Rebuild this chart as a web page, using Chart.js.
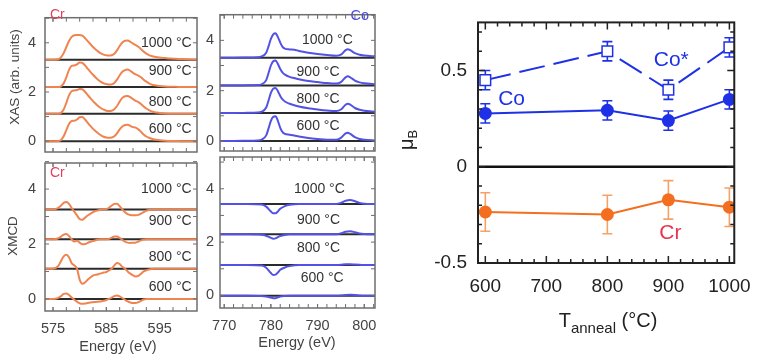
<!DOCTYPE html>
<html>
<head>
<meta charset="utf-8">
<script src="https://cdn.jsdelivr.net/npm/chart.js@4.4.0/dist/chart.umd.min.js"></script>
<style>
  body { margin: 0; background: #fff; }
  #wrap { position: relative; width: 763px; height: 361px; overflow: hidden; }
  #wrap canvas { position: absolute; left: 0; top: 0; }
</style>
</head>
<body>
<div id="wrap">
  <canvas id="crXas" width="763" height="361"></canvas>
  <canvas id="coXas" width="763" height="361"></canvas>
  <canvas id="crXmcd" width="763" height="361"></canvas>
  <canvas id="coXmcd" width="763" height="361"></canvas>
  <canvas id="moment" width="763" height="361"></canvas>
</div>
<script>
// ---- spectra (values relative to each curve's own baseline) ----
const temps = ['600 °C', '800 °C', '900 °C', '1000 °C'];

const crE = [573.5, 575, 576, 576.5, 577, 577.5, 578, 578.5, 579, 579.5,
             580, 580.5, 581, 581.5, 582, 582.5, 583, 583.5, 584, 584.5,
             585, 585.5, 586, 586.5, 587, 587.5, 588, 588.5, 589, 589.5,
             590, 590.5, 591, 591.5, 592, 592.5, 593, 593.5, 594, 595,
             596, 597, 598, 599, 600, 602];
const cr600Xas  = [0, 0, 0.01, 0.05, 0.2, 0.45, 0.7, 0.82, 0.83, 0.88, 0.97, 0.98, 0.88, 0.75, 0.62, 0.5, 0.4, 0.31, 0.24, 0.18, 0.15, 0.14, 0.15, 0.2, 0.32, 0.48, 0.6, 0.66, 0.67, 0.62, 0.57, 0.55, 0.48, 0.38, 0.27, 0.19, 0.14, 0.1, 0.07, 0.04, 0.02, 0.01, 0.01, 0, 0, 0];
const cr800Xas  = [0, 0, 0, 0.04, 0.18, 0.45, 0.75, 0.92, 0.95, 0.97, 1.01, 1.0, 0.9, 0.77, 0.64, 0.52, 0.41, 0.31, 0.23, 0.17, 0.13, 0.12, 0.13, 0.19, 0.32, 0.5, 0.65, 0.72, 0.73, 0.68, 0.6, 0.53, 0.48, 0.4, 0.3, 0.22, 0.15, 0.1, 0.07, 0.04, 0.02, 0.01, 0.01, 0, 0, 0];
const cr900Xas  = [0, 0, 0, 0.03, 0.15, 0.4, 0.7, 0.86, 0.88, 0.92, 1.0, 0.98, 0.88, 0.75, 0.62, 0.5, 0.39, 0.29, 0.21, 0.15, 0.12, 0.1, 0.11, 0.17, 0.3, 0.48, 0.62, 0.69, 0.71, 0.66, 0.58, 0.52, 0.47, 0.4, 0.3, 0.22, 0.15, 0.1, 0.07, 0.04, 0.02, 0.01, 0.01, 0, 0, 0];
const cr1000Xas = [0, 0, 0.02, 0.1, 0.27, 0.52, 0.76, 0.93, 1.0, 1.01, 1.01, 0.98, 0.88, 0.76, 0.64, 0.52, 0.42, 0.33, 0.26, 0.21, 0.18, 0.17, 0.18, 0.24, 0.38, 0.56, 0.7, 0.77, 0.78, 0.73, 0.66, 0.6, 0.53, 0.43, 0.33, 0.25, 0.19, 0.15, 0.12, 0.09, 0.07, 0.05, 0.04, 0.03, 0.02, 0.01];

const cr600Xmcd  = [0, 0, 0.04, 0.1, 0.18, 0.2, 0.14, 0.05, -0.03, -0.1, -0.16, -0.18, -0.17, -0.15, -0.13, -0.12, -0.11, -0.1, -0.09, -0.07, -0.04, 0, 0.05, 0.1, 0.12, 0.09, 0.03, -0.03, -0.09, -0.13, -0.15, -0.15, -0.12, -0.07, -0.02, 0, 0, 0, 0, 0, 0, 0, 0, 0, 0, 0];
const cr800Xmcd  = [0, 0, 0.1, 0.28, 0.45, 0.51, 0.42, 0.2, 0.12, 0, -0.4, -0.55, -0.5, -0.4, -0.32, -0.25, -0.22, -0.2, -0.17, -0.14, -0.12, -0.06, 0, 0.12, 0.21, 0.17, 0.07, 0, -0.1, -0.18, -0.24, -0.28, -0.26, -0.18, -0.1, -0.06, -0.03, -0.01, 0, 0, 0, 0, 0, 0, 0, 0];
const cr900Xmcd  = [0, 0, 0.04, 0.1, 0.17, 0.19, 0.12, 0, -0.08, -0.05, -0.12, -0.18, -0.17, -0.13, -0.09, -0.06, -0.03, -0.01, 0, 0, 0, 0.02, 0.06, 0.1, 0.1, 0.05, -0.02, -0.08, -0.12, -0.13, -0.12, -0.12, -0.08, -0.04, -0.01, 0, 0, 0, 0, 0, 0, 0, 0, 0, 0, 0];
const cr1000Xmcd = [0, 0, 0.06, 0.14, 0.24, 0.27, 0.2, 0.05, -0.08, -0.22, -0.35, -0.38, -0.3, -0.22, -0.16, -0.1, -0.06, -0.03, -0.01, 0, 0.01, 0.06, 0.14, 0.2, 0.21, 0.12, 0, -0.1, -0.17, -0.2, -0.21, -0.21, -0.2, -0.15, -0.1, -0.05, -0.02, -0.01, 0, 0, 0, 0, 0, 0, 0, 0];

const coXasE = [769, 772, 775, 777, 778, 779, 779.5, 780, 780.5, 781, 781.5, 782, 782.5, 783, 784, 785, 786, 788, 790, 792, 794, 795, 796, 796.5, 797, 798, 799, 800, 802.5];
const co600Xas  = [0, 0, 0.01, 0.02, 0.05, 0.22, 0.5, 0.8, 0.96, 0.98, 0.8, 0.52, 0.35, 0.28, 0.25, 0.22, 0.18, 0.12, 0.08, 0.05, 0.05, 0.12, 0.3, 0.33, 0.28, 0.15, 0.08, 0.05, 0.02];
const co800Xas  = [0, 0, 0.01, 0.02, 0.05, 0.22, 0.5, 0.8, 0.97, 1.0, 0.87, 0.68, 0.54, 0.46, 0.37, 0.31, 0.26, 0.19, 0.14, 0.1, 0.08, 0.14, 0.33, 0.37, 0.33, 0.2, 0.13, 0.09, 0.05];
const co900Xas  = [0, 0, 0.01, 0.02, 0.05, 0.22, 0.5, 0.8, 0.97, 1.0, 0.86, 0.66, 0.52, 0.44, 0.35, 0.3, 0.25, 0.18, 0.14, 0.1, 0.08, 0.14, 0.33, 0.37, 0.33, 0.2, 0.13, 0.09, 0.05];
const co1000Xas = [0, 0, 0.01, 0.02, 0.05, 0.2, 0.45, 0.75, 0.93, 0.97, 0.82, 0.6, 0.43, 0.36, 0.33, 0.32, 0.27, 0.2, 0.15, 0.11, 0.08, 0.12, 0.3, 0.34, 0.3, 0.18, 0.12, 0.09, 0.05];

const coXmcdE = [769, 775, 778, 779, 780, 780.5, 781, 781.5, 782, 783, 784, 786, 790, 794, 795, 796, 797, 798, 799, 800, 802.5];
const co600Xmcd  = [0, 0, -0.01, -0.03, -0.07, -0.09, -0.09, -0.06, -0.03, -0.01, 0, 0, 0, 0, 0.01, 0.03, 0.04, 0.03, 0.01, 0, 0];
const co800Xmcd  = [0, 0, -0.02, -0.1, -0.3, -0.37, -0.36, -0.28, -0.18, -0.09, -0.04, 0, 0, 0, 0.01, 0.03, 0.03, 0.02, 0.01, 0, 0];
const co900Xmcd  = [0, 0, -0.01, -0.05, -0.13, -0.16, -0.15, -0.1, -0.06, -0.02, 0, 0, 0, 0, 0.04, 0.1, 0.12, 0.08, 0.03, 0.01, 0];
const co1000Xmcd = [0, 0, -0.02, -0.1, -0.28, -0.35, -0.35, -0.28, -0.18, -0.08, -0.03, 0, 0, 0, 0.04, 0.12, 0.15, 0.1, 0.04, 0.01, 0];

// vertical stacking offsets, 600 / 800 / 900 / 1000
const xasOffsets = [0, 1.11, 2.2, 3.31];
const crXmcdOffsets = [0, 1.1, 2.17, 3.26];
const coXmcdOffsets = [-0.01, 1.14, 2.29, 3.43];

const crTicks = [575, 585, 595];
const coTicks = [770, 780, 790, 800];
const specYTicks = [0, 2, 4];

// ---- moment vs anneal temperature ----
const tAnneal = [600, 800, 900, 1000];
const coStar = [0.45, 0.60, 0.40, 0.62];
const coStarErr = [0.05, 0.05, 0.05, 0.05];
const coMom = [0.277, 0.293, 0.24, 0.35];
const coMomErr = [0.05, 0.05, 0.05, 0.05];
const crMom = [-0.235, -0.248, -0.172, -0.21];
const crMomErr = [0.1, 0.1, 0.1, 0.1];
const tTicks = [600, 700, 800, 900, 1000];
const muTicks = [-0.5, 0, 0.5];

const FONT = '"Liberation Sans", Arial, sans-serif';
const CR_LINE = '#ef8450';
const CO_LINE = '#5252e4';
const CO_BLUE = '#1f31e6';
const CR_ORANGE = '#f36f1f';

function range(a, b, step) {
  const out = [];
  for (let v = a; v <= b + 1e-9; v += step) out.push(Math.round(v * 1000) / 1000);
  return out;
}

// frame + inward tick marks on all four sides
const frameTicks = {
  id: 'frameTicks',
  afterDatasetsDraw(chart, args, o) {
    const { ctx, chartArea: a, scales } = chart;
    ctx.save();
    ctx.strokeStyle = o.color;
    ctx.lineWidth = o.tickWidth;
    const tick = (vals, len, axis) => {
      vals.forEach(v => {
        if (axis === 'x') {
          const px = scales.x.getPixelForValue(v);
          ctx.beginPath();
          ctx.moveTo(px, a.bottom); ctx.lineTo(px, a.bottom - len);
          ctx.moveTo(px, a.top); ctx.lineTo(px, a.top + len);
          ctx.stroke();
        } else {
          const py = scales.y.getPixelForValue(v);
          ctx.beginPath();
          ctx.moveTo(a.left, py); ctx.lineTo(a.left + len, py);
          ctx.moveTo(a.right, py); ctx.lineTo(a.right - len, py);
          ctx.stroke();
        }
      });
    };
    tick(o.xMinor, o.minorLen, 'x');
    tick(o.xMajor, o.majorLen, 'x');
    tick(o.yMinor, o.minorLen, 'y');
    tick(o.yMajor, o.majorLen, 'y');
    ctx.lineWidth = o.width;
    ctx.strokeRect(a.left, a.top, a.right - a.left, a.bottom - a.top);
    ctx.restore();
  }
};

// vertical error bars with caps
const errorBars = {
  id: 'errorBars',
  beforeDatasetsDraw(chart) {
    const { ctx, scales } = chart;
    chart.data.datasets.forEach(ds => {
      if (!ds.errors) return;
      ctx.save();
      ctx.strokeStyle = ds.errorColor || ds.borderColor;
      ctx.lineWidth = 1.6;
      ds.data.forEach((p, i) => {
        const px = scales.x.getPixelForValue(p.x);
        const top = scales.y.getPixelForValue(p.y + ds.errors[i]);
        const bot = scales.y.getPixelForValue(p.y - ds.errors[i]);
        ctx.beginPath();
        ctx.moveTo(px, top); ctx.lineTo(px, bot);
        ctx.moveTo(px - 5, top); ctx.lineTo(px + 5, top);
        ctx.moveTo(px - 5, bot); ctx.lineTo(px + 5, bot);
        ctx.stroke();
      });
      ctx.restore();
    });
  }
};

// free text, with optional sub/superscript parts and rotation
function drawRich(ctx, parts, x, y, align, color, rotate) {
  ctx.save();
  ctx.translate(x, y);
  if (rotate) ctx.rotate(rotate);
  ctx.fillStyle = color;
  ctx.textBaseline = 'middle';
  ctx.textAlign = 'left';
  let w = 0;
  parts.forEach(p => { ctx.font = p.s + 'px ' + FONT; p.w = ctx.measureText(p.t).width; w += p.w; });
  let cx = align === 'left' ? 0 : align === 'right' ? -w : -w / 2;
  parts.forEach(p => {
    ctx.font = p.s + 'px ' + FONT;
    ctx.fillText(p.t, cx, p.dy || 0);
    cx += p.w;
  });
  ctx.restore();
}

const notes = {
  id: 'notes',
  afterDraw(chart, args, o) {
    (o.items || []).forEach(it => {
      let px = it.x, py = it.y;
      if (it.data) {
        px = chart.scales.x.getPixelForValue(it.x);
        py = chart.scales.y.getPixelForValue(it.y);
      }
      drawRich(chart.ctx, it.parts, px, py, it.align, it.color, it.rotate);
    });
  }
};

function spectrum(energies, values, offset, color) {
  return {
    data: energies.map((e, i) => ({ x: e, y: values[i] + offset })),
    borderColor: color, borderWidth: 2, pointRadius: 0,
    cubicInterpolationMode: 'monotone', fill: false, order: 1
  };
}
function baseline(xmin, xmax, offset) {
  return {
    data: [{ x: xmin, y: offset }, { x: xmax, y: offset }],
    borderColor: '#2b2b2b', borderWidth: 2, pointRadius: 0, order: 2
  };
}

function tempNotes(xs, ys, align) {
  return temps.map((t, i) => ({
    data: true, x: xs[i], y: ys[i], align: align, color: '#333',
    parts: [{ t: t, s: 14 }]
  }));
}

function panel(id, box, cfg) {
  const yW = 40, xH = 30;
  return new Chart(document.getElementById(id), {
    type: 'line',
    data: { datasets: cfg.datasets },
    options: {
      responsive: false, animation: false, devicePixelRatio: 1,
      layout: { padding: { left: box.l - yW, top: box.t, right: 763 - box.r, bottom: 361 - box.b - xH } },
      plugins: {
        legend: { display: false }, tooltip: { enabled: false },
        frameTicks: {
          color: '#6e6e6e', width: 1.5, tickWidth: 1, majorLen: 4, minorLen: 4,
          xMajor: cfg.xTicks, xMinor: cfg.xMinor, yMajor: specYTicks, yMinor: [1, 3, 5]
        },
        notes: { items: cfg.notes }
      },
      scales: {
        x: {
          type: 'linear', min: cfg.xMin, max: cfg.xMax,
          grid: { display: false, drawTicks: false }, border: { display: false },
          ticks: { display: cfg.showX, color: '#444', padding: 9, font: { family: FONT, size: 14.5 }, callback: v => String(v) },
          afterBuildTicks: s => { s.ticks = cfg.xTicks.map(v => ({ value: v })); },
          afterFit: s => { s.height = xH; }
        },
        y: {
          type: 'linear', min: cfg.yMin, max: cfg.yMax,
          grid: { display: false, drawTicks: false }, border: { display: false },
          ticks: { color: '#444', padding: cfg.yPad, font: { family: FONT, size: 14.5 }, callback: v => String(v) },
          afterBuildTicks: s => { s.ticks = specYTicks.map(v => ({ value: v })); },
          afterFit: s => { s.width = yW; }
        }
      }
    },
    plugins: [errorBars, frameTicks, notes]
  });
}

const crXas = [cr600Xas, cr800Xas, cr900Xas, cr1000Xas];
const crXmcd = [cr600Xmcd, cr800Xmcd, cr900Xmcd, cr1000Xmcd];
const coXas = [co600Xas, co800Xas, co900Xas, co1000Xas];
const coXmcd = [co600Xmcd, co800Xmcd, co900Xmcd, co1000Xmcd];

// Cr XAS
panel('crXas', { l: 45, t: 3, r: 197, b: 152 }, {
  xMin: 573.5, xMax: 602, yMin: -0.44, yMax: 5.02, showX: false, yPad: 9,
  xTicks: crTicks, xMinor: range(575, 600, 2.5),
  datasets: [
    ...xasOffsets.map(o => baseline(573.5, 602, o)),
    ...crXas.map((v, i) => spectrum(crE, v, xasOffsets[i], CR_LINE))
  ],
  notes: [
    ...tempNotes([601, 601, 601, 601], [0.48, 1.58, 2.86, 3.99], 'right'),
    { data: false, x: 50, y: 15, align: 'left', color: '#e4405c', parts: [{ t: 'Cr', s: 14 }] },
    { data: false, x: 15, y: 77, align: 'center', color: '#444', rotate: -Math.PI / 2, parts: [{ t: 'XAS (arb. units)', s: 13.5 }] }
  ]
});

// Co XAS
panel('coXas', { l: 220, t: 3, r: 375, b: 151 }, {
  xMin: 769.1, xMax: 802.3, yMin: -0.4, yMax: 5.02, showX: false, yPad: 6,
  xTicks: coTicks, xMinor: range(770, 802, 2),
  datasets: [
    ...xasOffsets.map(o => baseline(769.1, 802.3, o)),
    ...coXas.map((v, i) => spectrum(coXasE, v, xasOffsets[i], CO_LINE))
  ],
  notes: [
    ...tempNotes([790.1, 790.1, 790.1, 792.1], [0.59, 1.68, 2.75, 3.99], 'center'),
    { data: false, x: 369, y: 16, align: 'right', color: '#4a4ae6', parts: [{ t: 'Co', s: 14.5 }] }
  ]
});

// Cr XMCD
panel('crXmcd', { l: 45, t: 163, r: 197, b: 311 }, {
  xMin: 573.5, xMax: 602, yMin: -0.44, yMax: 4.95, showX: true, yPad: 9,
  xTicks: crTicks, xMinor: range(575, 600, 2.5),
  datasets: [
    ...crXmcdOffsets.map(o => baseline(573.5, 602, o)),
    ...crXmcd.map((v, i) => spectrum(crE, v, crXmcdOffsets[i], CR_LINE))
  ],
  notes: [
    ...tempNotes([601, 601, 601, 601], [0.44, 1.53, 2.84, 4.0], 'right'),
    { data: false, x: 50, y: 173, align: 'left', color: '#e4405c', parts: [{ t: 'Cr', s: 14 }] },
    { data: false, x: 13, y: 236, align: 'center', color: '#444', rotate: -Math.PI / 2, parts: [{ t: 'XMCD', s: 13.5 }] },
    { data: false, x: 118, y: 347, align: 'center', color: '#444', parts: [{ t: 'Energy (eV)', s: 14.5 }] }
  ]
});

// Co XMCD
panel('coXmcd', { l: 220, t: 157, r: 375, b: 308 }, {
  xMin: 769.1, xMax: 802.3, yMin: -0.47, yMax: 5.19, showX: true, yPad: 6,
  xTicks: coTicks, xMinor: range(770, 802, 2),
  datasets: [
    ...coXmcdOffsets.map(o => baseline(769.1, 802.3, o)),
    ...coXmcd.map((v, i) => spectrum(coXmcdE, v, coXmcdOffsets[i], CO_LINE))
  ],
  notes: [
    ...tempNotes([791, 790.2, 790.2, 790.4], [0.66, 1.79, 2.84, 4.0], 'center'),
    { data: false, x: 297, y: 343, align: 'center', color: '#444', parts: [{ t: 'Energy (eV)', s: 14.5 }] }
  ]
});

// magnetic moment panel
const mBox = { l: 478, t: 13, r: 738, b: 263 };
const xsOf = vals => tAnneal.map((t, i) => ({ x: t, y: vals[i] }));
new Chart(document.getElementById('moment'), {
  type: 'line',
  data: {
    datasets: [
      { data: xsOf(crMom), errors: crMomErr, errorColor: '#f5a266', borderColor: CR_ORANGE, backgroundColor: CR_ORANGE,
        borderWidth: 2, pointRadius: 6.5, pointBorderWidth: 0, order: 1 },
      { data: xsOf(coMom), errors: coMomErr, borderColor: CO_BLUE, backgroundColor: CO_BLUE,
        borderWidth: 2, pointRadius: 6.5, pointBorderWidth: 0, order: 1 },
      { data: xsOf(coStar), errors: coStarErr, borderColor: CO_BLUE, backgroundColor: '#fff', borderDash: [26, 9],
        borderWidth: 2, pointStyle: 'rect', pointRadius: 7.5, pointBorderWidth: 1.5, order: 1 },
      { data: [{ x: 588, y: 0 }, { x: 1008, y: 0 }], borderColor: '#111', borderWidth: 2.5, pointRadius: 0, order: 3 }
    ]
  },
  options: {
    responsive: false, animation: false, devicePixelRatio: 1,
    layout: { padding: { left: mBox.l - 60, top: mBox.t, right: 763 - mBox.r, bottom: 361 - mBox.b - 40 } },
    plugins: {
      legend: { display: false }, tooltip: { enabled: false },
      frameTicks: {
        color: '#222', width: 2, tickWidth: 1.5, majorLen: 7, minorLen: 4,
        xMajor: tTicks, xMinor: range(620, 980, 20).filter(v => v % 100 !== 0),
        yMajor: muTicks, yMinor: range(-0.4, 0.7, 0.1).filter(v => Math.abs(v * 2 - Math.round(v * 2)) > 1e-6)
      },
      notes: {
        items: [
          { data: true, x: 876, y: 0.555, align: 'left', color: CO_BLUE, parts: [{ t: 'Co*', s: 21 }] },
          { data: true, x: 621, y: 0.35, align: 'left', color: CO_BLUE, parts: [{ t: 'Co', s: 21 }] },
          { data: true, x: 885, y: -0.345, align: 'left', color: '#e8344f', parts: [{ t: 'Cr', s: 21 }] },
          { data: false, x: 407, y: 140, align: 'center', color: '#222', rotate: -Math.PI / 2,
            parts: [{ t: 'μ', s: 20 }, { t: 'B', s: 13, dy: 6 }] },
          { data: false, x: 608, y: 321, align: 'center', color: '#222',
            parts: [{ t: 'T', s: 20 }, { t: 'anneal', s: 15, dy: 8 }, { t: ' (°C)', s: 20 }] }
        ]
      }
    },
    scales: {
      x: {
        type: 'linear', min: 588, max: 1008,
        grid: { display: false, drawTicks: false }, border: { display: false },
        ticks: { color: '#222', padding: 12, font: { family: FONT, size: 19 }, callback: v => String(v) },
        afterBuildTicks: s => { s.ticks = tTicks.map(v => ({ value: v })); },
        afterFit: s => { s.height = 40; }
      },
      y: {
        type: 'linear', min: -0.5, max: 0.75,
        grid: { display: false, drawTicks: false }, border: { display: false },
        ticks: { color: '#222', padding: 11, font: { family: FONT, size: 19 }, callback: v => String(v) },
        afterBuildTicks: s => { s.ticks = muTicks.map(v => ({ value: v })); },
        afterFit: s => { s.width = 60; }
      }
    }
  },
  plugins: [errorBars, frameTicks, notes]
});
</script>
</body>
</html>
